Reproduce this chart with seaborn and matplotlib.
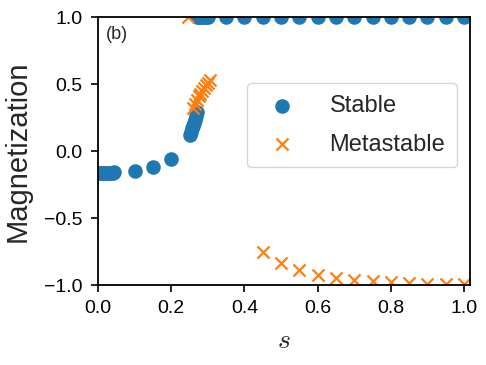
import matplotlib
matplotlib.use("Agg")
import matplotlib.pyplot as plt
import numpy as np
import pandas as pd
import seaborn as sns

# stable branch
stable_s = [0.0, 0.005, 0.01, 0.015, 0.02, 0.025, 0.03, 0.035, 0.04, 0.045,
            0.1, 0.15, 0.2,
            0.25, 0.253, 0.256, 0.259, 0.262, 0.265, 0.268, 0.271,
            0.27, 0.275, 0.28, 0.285, 0.29, 0.295, 0.3,
            0.35, 0.4, 0.45, 0.5, 0.55, 0.6, 0.65, 0.7, 0.75, 0.8, 0.85, 0.9, 0.95, 1.0]
stable_m = [-0.165, -0.165, -0.164, -0.164, -0.163, -0.163, -0.162, -0.161, -0.16, -0.159,
            -0.145, -0.115, -0.06,
            0.12, 0.14, 0.17, 0.19, 0.21, 0.23, 0.26, 0.29,
            1.0, 1.0, 1.0, 1.0, 1.0, 1.0, 1.0,
            1.0, 1.0, 1.0, 1.0, 1.0, 1.0, 1.0, 1.0, 1.0, 1.0, 1.0, 1.0, 1.0, 1.0]

# metastable branch
meta_s = [0.245,
          0.26, 0.265, 0.27, 0.275, 0.28, 0.285, 0.29, 0.295, 0.3, 0.305,
          0.45, 0.5, 0.55, 0.6, 0.65, 0.7, 0.75, 0.8, 0.85, 0.9, 0.95, 1.0]
meta_m = [1.0,
          0.32, 0.35, 0.38, 0.41, 0.43, 0.45, 0.47, 0.49, 0.51, 0.53,
          -0.754, -0.836, -0.89, -0.925, -0.95, -0.96, -0.97, -0.98, -0.985, -0.99, -0.99, -0.995]

sns.set_style("ticks")
plt.rcParams['font.family'] = ['Liberation Sans', 'DejaVu Sans']
plt.rcParams['mathtext.fontset'] = 'cm'

fig, ax = plt.subplots(figsize=(4.86, 3.65), dpi=100)
fig.subplots_adjust(left=0.2016, right=0.967, top=0.953, bottom=0.219)

blue = sns.color_palette("tab10")[0]
orange = sns.color_palette("tab10")[1]

sns.scatterplot(x=stable_s, y=stable_m, ax=ax, color=blue, marker="o", s=110,
                linewidth=0, label="Stable", zorder=3)
ax.scatter(meta_s, meta_m, color=orange, marker="x", s=75, linewidths=1.6,
           label="Metastable", zorder=3)

ax.set_xlim(0, 1.016)
ax.set_ylim(-1, 1)
ax.set_xticks([0.0, 0.2, 0.4, 0.6, 0.8, 1.0])
ax.set_yticks([-1.0, -0.5, 0.0, 0.5, 1.0])
ax.tick_params(labelsize=14, direction="out", length=5, width=1.2, pad=6, colors="black")
for sp in ax.spines.values():
    sp.set_linewidth(1.3)
    sp.set_color("black")
    sp.set_zorder(4)

ax.set_xlabel(r"$s$", fontsize=20, labelpad=8)
ax.set_ylabel("Magnetization", fontsize=21, labelpad=9)
ax.text(0.02, 0.92, "(b)", transform=ax.transAxes, fontsize=13)

ax.legend(loc="center right", bbox_to_anchor=(0.997, 0.596), fontsize=17,
          markerscale=1.0, borderpad=0.5, handletextpad=1.0, labelspacing=0.7)

fig.savefig("out.png", dpi=100)
